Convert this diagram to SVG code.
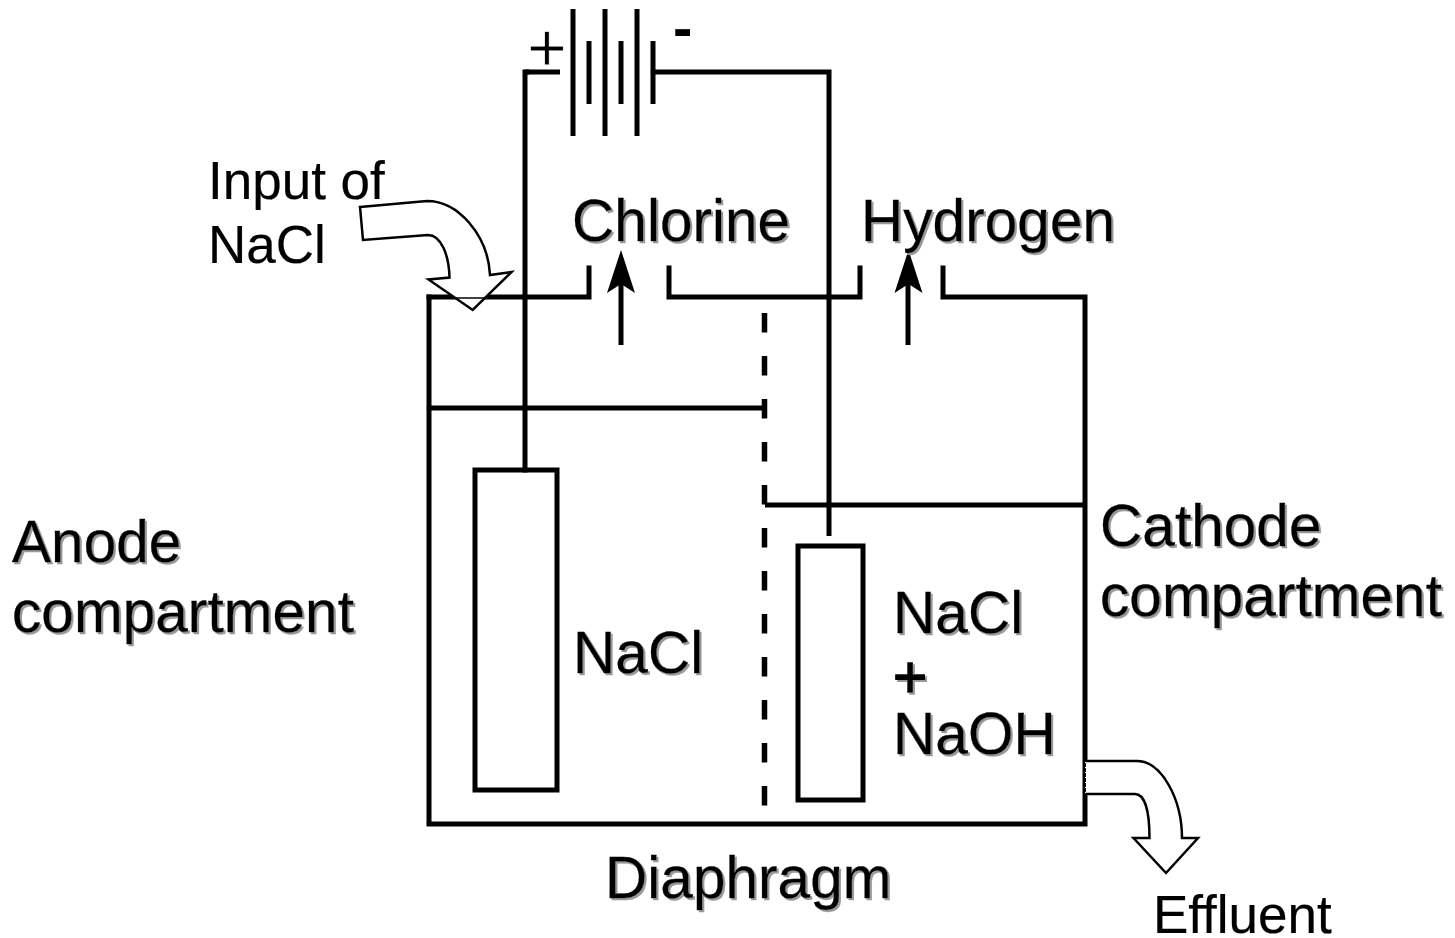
<svg xmlns="http://www.w3.org/2000/svg" width="1455" height="938" viewBox="0 0 1455 938">
<style>
.w{fill:none;stroke:#000;stroke-width:5;stroke-linecap:square;stroke-linejoin:miter}
.b{fill:none;stroke:#000;stroke-width:5;stroke-linecap:butt}
.ba{fill:#fff;stroke:#000;stroke-width:2.5;stroke-linejoin:miter}
text{font-family:"Liberation Sans",Arial,sans-serif;fill:#000}
.s{font-size:58.600px;filter:url(#sh);stroke:#000;stroke-width:.3}
.p{font-size:53px;stroke:#000;stroke-width:.2}
</style>
<defs>
<filter id="sh" x="-5%" y="-5%" width="110%" height="115%"><feDropShadow dx="2" dy="2" stdDeviation="0.6" flood-color="#999"/></filter>
</defs>
<rect width="1455" height="938" fill="#fff"/>
<g id="connectors">
<path class="w" d="M527 72H525V470"/>
<path class="b" d="M525 72H560"/>
<path class="b" d="M655 72H829V536"/>
<path class="b" d="M621 345V280"/>
<polygon points="621,250 635,293 621,284 607,293" fill="#000"/>
<path class="b" d="M908 345V280"/>
<polygon points="908.500,250 922.500,293 908.500,284 894.500,293" fill="#000"/>
</g>
<g id="battery">
<path class="b" d="M573 9V136M605 9V136M637 9V136M589 41V104M621 41V104M653 41V104"/>
<text x="527" y="71" style="font-size:68px;stroke:#fff;stroke-width:.8">+</text>
<text x="673" y="48" style="font-size:58px;font-weight:bold">-</text>
</g>
<g id="tank">
<path class="w" d="M429 297V824H1085V297H943V268"/>
<path class="w" d="M429 297H589V268"/>
<path class="w" d="M669 268V297H860V268"/>
<path class="b" d="M429 408H765"/>
<path class="b" d="M765 505H1085"/>
<path class="b" d="M764.500 313V806" stroke-dasharray="19.500 23.500" style="stroke-width:5.500"/>
</g>
<g id="anode"><rect x="475" y="470" width="82" height="320" fill="none" stroke="#000" stroke-width="5"/></g>
<g id="cathode"><rect x="798" y="546" width="65" height="254" fill="none" stroke="#000" stroke-width="5"/></g>
<g id="input-arrow">
<path class="ba" d="M360 207L427 201C458 201 488 235 490 275L511.500 272L472.700 310L428.500 279.500L449.500 277.500C449 255 441 235 428 235L363 240Z"/>
<path d="M447 298H489" stroke="#000" stroke-width="1.500"/>
</g>
<g id="effluent-arrow">
<path class="ba" d="M1086 761H1137C1162 761 1182 800 1182 838H1198L1166 873L1133.500 838H1149.500C1149.500 812 1145 794 1135 794H1086"/>
<path d="M1085.500 762V794" stroke="#fff" stroke-width="1" stroke-dasharray="1 4"/>
</g>
<g id="labels">
<text x="208" y="199" class="p">Input of</text>
<text x="208" y="263" class="p">NaCl</text>
<text x="572" y="241" class="s">Chlorine</text>
<text x="861" y="241" class="s">Hydrogen</text>
<text x="12" y="562" class="s">Anode</text>
<text x="12" y="632" class="s">compartment</text>
<text x="1100" y="546" class="s">Cathode</text>
<text x="1100" y="616" class="s">compartment</text>
<text x="573" y="673" class="s">NaCl</text>
<text x="893" y="633" class="s">NaCl</text>
<text x="893" y="697" class="s" style="stroke-width:1.400">+</text>
<text x="893" y="754" class="s">NaOH</text>
<text x="605" y="898" class="s">Diaphragm</text>
<text x="1153" y="933" class="p">Effluent</text>
</g>
</svg>
